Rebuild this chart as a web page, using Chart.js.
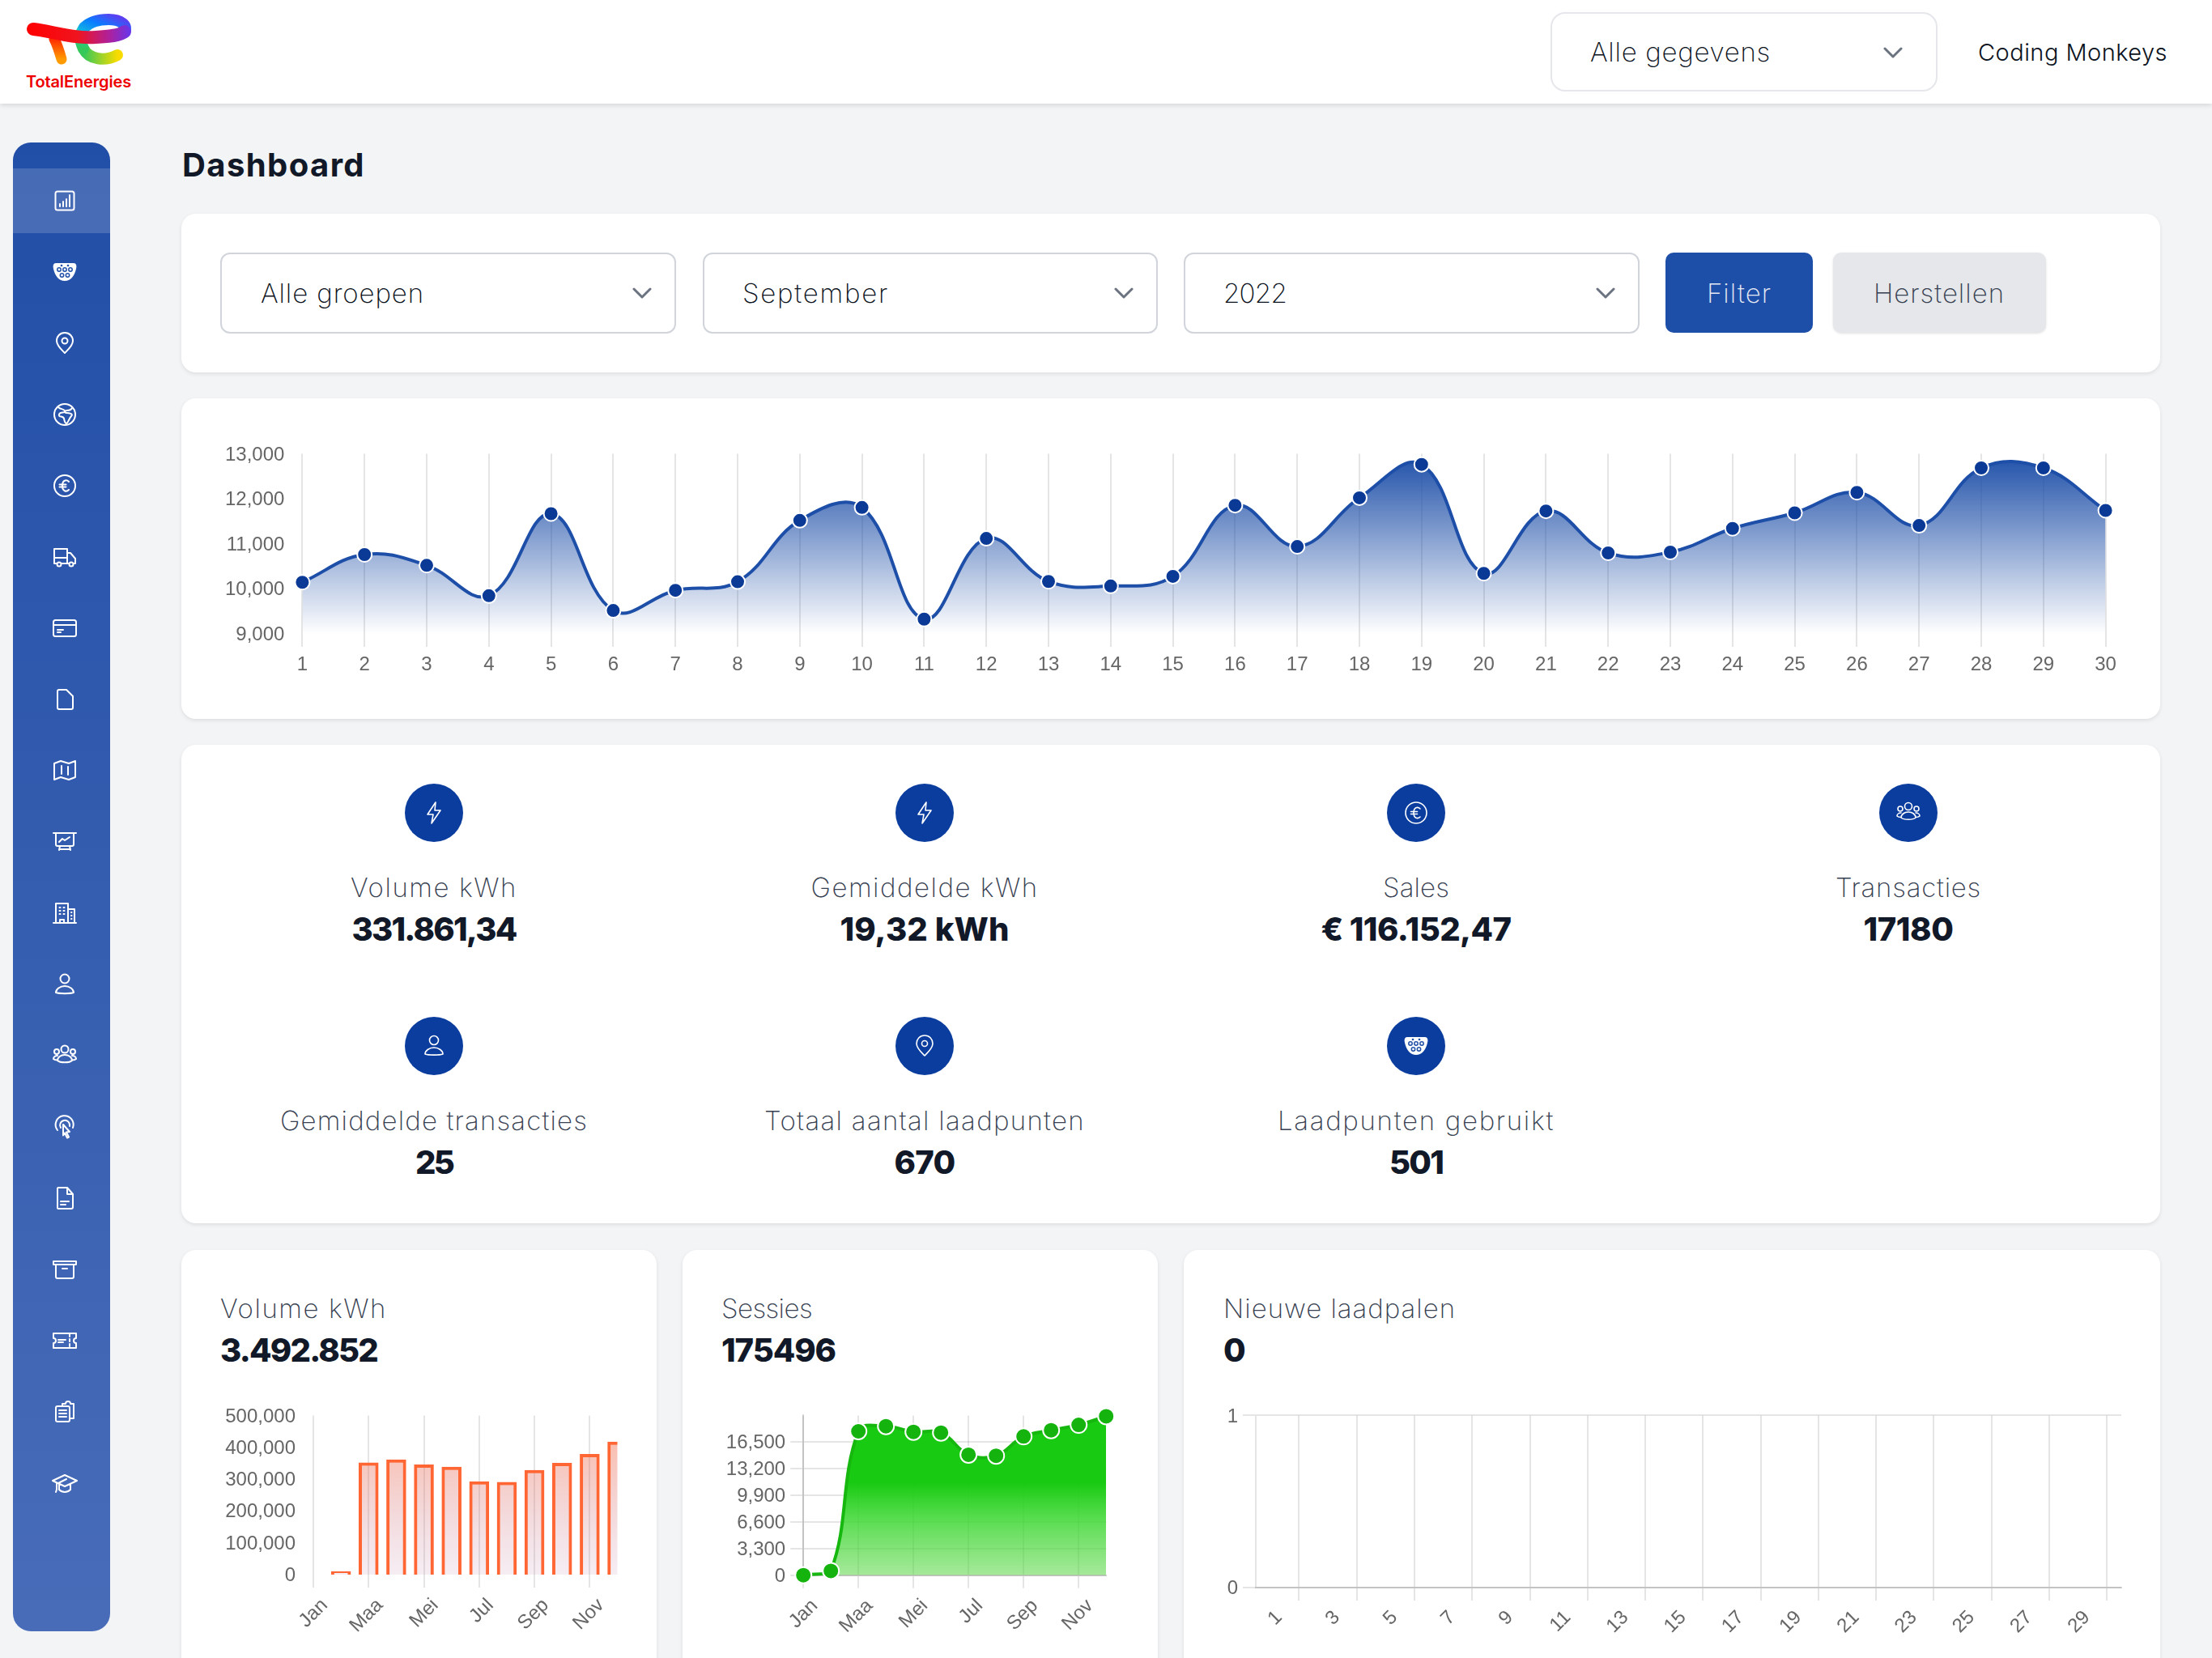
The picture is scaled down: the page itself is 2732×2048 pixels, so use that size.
<!DOCTYPE html>
<html lang="nl">
<head>
<meta charset="utf-8">
<title>Dashboard</title>
<script src="https://cdn.jsdelivr.net/npm/chart.js@4"></script>
<style>
* { box-sizing: border-box; }
html, body { margin: 0; width: 2732px; height: 2048px; overflow: hidden; background: #f3f4f6; }
body { position: relative; font-family: Inter, Lato, sans-serif; font-weight: 250; color: #111827; }
.abs, .card, .select, .btn, canvas, .txt { position: absolute; }
.topbar { position: absolute; left: 0; top: 0; width: 2732px; height: 128px; background: #fff; box-shadow: 0 2px 6px rgba(0,0,0,.12); }
.card { background: #fff; border-radius: 18px; box-shadow: 0 2px 5px rgba(0,0,0,.09); }
.sidebar { position: absolute; left: 16px; top: 176px; width: 120px; height: 1839px; border-radius: 22px; overflow: hidden; background: linear-gradient(180deg, #214ea7 0%, #486cb8 100%); }
.sidebar .active { position: absolute; left: 0; top: 32px; width: 120px; height: 80px; background: rgba(255,255,255,.17); }
.sidebar svg { position: absolute; left: 48px; width: 32px; height: 32px; }
svg.icon { fill: none; stroke: #fff; stroke-width: 2; stroke-linecap: round; stroke-linejoin: round; }
.select { height: 100px; background: #fff; border: 2px solid #d1d5db; border-radius: 12px; }
.txt { white-space: nowrap; line-height: 1; }
.field { font-size: 33px; color: #0b1220; transform: translateY(-50%); }
.chev { position: absolute; width: 24px; height: 14px; fill: none; stroke: #6b7280; stroke-width: 3; stroke-linecap: round; stroke-linejoin: round; }
.btn { top: 312px; height: 99px; border-radius: 10px; }
.kpi-dot { position: absolute; width: 72px; height: 72px; border-radius: 50%; background: #0b3d9f; }
.kpi-dot svg { position: absolute; left: 20px; top: 20px; width: 32px; height: 32px; stroke-width: 1.6; }
.kpi-label, .kpi-value { transform: translate(-50%, -50%); }
.kpi-label { font-size: 33px; color: #374151; }
.kpi-value { font-size: 40px; font-weight: 800; color: #111827; }
.card-title { font-size: 33px; color: #374151; transform: translateY(-50%); }
.card-value { font-size: 40px; font-weight: 800; color: #111827; transform: translateY(-50%); }
</style>
</head>
<body>
<div class="topbar"></div>
<svg class="abs" style="left:24px;top:10px" width="150" height="90" viewBox="24 10 150 90" fill="none" stroke-linecap="round">
  <defs>
    <linearGradient id="gTop" x1="0" y1="1" x2="1" y2="0"><stop offset="0" stop-color="#16c8d8"/><stop offset=".55" stop-color="#0a7cff"/><stop offset="1" stop-color="#5b3ff0"/></linearGradient>
    <linearGradient id="gLeft" x1="0" y1="0" x2="0" y2="1"><stop offset="0" stop-color="#16c8d8"/><stop offset="1" stop-color="#35c85a"/></linearGradient>
    <linearGradient id="gBot" x1="0" y1="0" x2="1" y2="0"><stop offset="0" stop-color="#35c85a"/><stop offset="1" stop-color="#f8dc00"/></linearGradient>
    <linearGradient id="gSwoosh" gradientUnits="userSpaceOnUse" x1="32" y1="40" x2="160" y2="40"><stop offset="0" stop-color="#ff0000"/><stop offset=".5" stop-color="#f0141e"/><stop offset=".8" stop-color="#b0209a"/><stop offset="1" stop-color="#6a35e8"/></linearGradient>
    <linearGradient id="gStem" x1="0" y1="0" x2="0" y2="1"><stop offset="0" stop-color="#ff2a00"/><stop offset="1" stop-color="#ff9a00"/></linearGradient>
  </defs>
  <path d="M103 60C110 74 130 76 145 68" stroke="url(#gBot)" stroke-width="14"/>
  <path d="M104 34C97 43 99 52 103 60" stroke="url(#gLeft)" stroke-width="14"/>
  <path d="M104 34C112 26 122 24 134 24C150 24 158 32 154 38C150 44 140 45 125 46" stroke="url(#gTop)" stroke-width="14"/>
  <path d="M67 48C71 56 74 66 76 73" stroke="url(#gStem)" stroke-width="13"/>
  <path d="M41 36C62 38 90 48 118 46C135 45 148 44 154 39" stroke="url(#gSwoosh)" stroke-width="16"/>
</svg>
<div class="txt" style="left:32px;top:91px;font-size:20px;font-weight:600;color:#ed0000" data-w="130">TotalEnergies</div>
<div class="select" style="left:1915px;top:15px;width:478px;height:98px;border-radius:18px;border-color:#e5e7eb"></div>
<div class="txt field" style="left:1964px;top:64px" data-w="223">Alle gegevens</div>
<svg class="chev" style="left:2326px;top:58px" viewBox="0 0 24 14"><path d="M2 2l10 10L22 2"/></svg>
<div class="txt" style="left:2443px;top:50px;font-size:29px;font-weight:300;color:#0b1220" data-w="234">Coding Monkeys</div>

<div class="sidebar" id="sidebar"><div class="active"></div></div>

<div class="txt" style="left:225px;top:184px;font-size:40px;font-weight:700" data-w="226">Dashboard</div>

<div class="card" style="left:224px;top:264px;width:2444px;height:196px"></div>
<div class="select" style="left:272px;top:312px;width:563px"></div>
<div class="txt field" style="left:322px;top:362px" data-w="202">Alle groepen</div>
<svg class="chev" style="left:781px;top:355px" viewBox="0 0 24 14"><path d="M2 2l10 10L22 2"/></svg>
<div class="select" style="left:868px;top:312px;width:562px"></div>
<div class="txt field" style="left:917px;top:362px" data-w="181">September</div>
<svg class="chev" style="left:1376px;top:355px" viewBox="0 0 24 14"><path d="M2 2l10 10L22 2"/></svg>
<div class="select" style="left:1462px;top:312px;width:563px"></div>
<div class="txt field" style="left:1511px;top:362px" data-w="78">2022</div>
<svg class="chev" style="left:1971px;top:355px" viewBox="0 0 24 14"><path d="M2 2l10 10L22 2"/></svg>
<div class="btn" style="left:2057px;width:182px;background:#1e4fa8"></div>
<div class="txt field" style="left:2108px;top:362px;color:#e5e9f3" data-w="80">Filter</div>
<div class="btn" style="left:2264px;width:263px;background:#e5e7eb;box-shadow:0 1px 3px rgba(0,0,0,.12)"></div>
<div class="txt field" style="left:2314px;top:362px;color:#374151" data-w="162">Herstellen</div>

<div class="card" style="left:224px;top:492px;width:2444px;height:396px"></div>
<canvas id="dailyChart" width="2400" height="340" style="left:260px;top:540px"></canvas>

<div class="card" style="left:224px;top:920px;width:2444px;height:591px"></div>
<div id="kpis"></div>

<div class="card" style="left:224px;top:1544px;width:587px;height:520px"></div>
<div class="txt card-title" style="left:272px;top:1616px" data-w="206">Volume kWh</div>
<div class="txt card-value" style="left:272px;top:1668px" data-w="194">3.492.852</div>
<canvas id="volumeChart" width="570" height="320" style="left:230px;top:1728px"></canvas>

<div class="card" style="left:843px;top:1544px;width:587px;height:520px"></div>
<div class="txt card-title" style="left:891px;top:1616px" data-w="112">Sessies</div>
<div class="txt card-value" style="left:891px;top:1668px" data-w="141">175496</div>
<canvas id="sessionsChart" width="560" height="320" style="left:860px;top:1728px"></canvas>

<div class="card" style="left:1462px;top:1544px;width:1206px;height:520px"></div>
<div class="txt card-title" style="left:1511px;top:1616px" data-w="287">Nieuwe laadpalen</div>
<div class="txt card-value" style="left:1511px;top:1668px">0</div>
<canvas id="chargersChart" width="1180" height="320" style="left:1480px;top:1728px"></canvas>

<script>
const dayLabels = ['1', '2', '3', '4', '5', '6', '7', '8', '9', '10', '11', '12', '13', '14', '15', '16', '17', '18', '19', '20', '21', '22', '23', '24', '25', '26', '27', '28', '29', '30'];
const dailyKwh = [10146, 10761, 10522, 9848, 11669, 9519, 9967, 10158, 11519, 11806, 9328, 11119, 10164, 10063, 10278, 11854, 10940, 12021, 12761, 10343, 11728, 10797, 10815, 11340, 11687, 12140, 11406, 12684, 12684, 11740];
const monthLabels = ['Jan', 'Feb', 'Maa', 'Apr', 'Mei', 'Jun', 'Jul', 'Aug', 'Sep', 'Okt', 'Nov', 'Dec'];
const monthlyVolume = [0, 10100, 352000, 362000, 346000, 339000, 293000, 291000, 329000, 351000, 379000, 418000];
const monthlySessions = [0, 530, 17833, 18467, 17767, 17667, 14933, 14800, 17200, 17967, 18633, 19700];
const newChargers = [0, 0, 0, 0, 0, 0, 0, 0, 0, 0, 0, 0, 0, 0, 0, 0, 0, 0, 0, 0, 0, 0, 0, 0, 0, 0, 0, 0, 0, 0];

const kpis = [
    { icon: 'bolt', label: 'Volume kWh', value: '331.861,34', labelW: 206, valueW: 203 },
    { icon: 'bolt', label: 'Gemiddelde kWh', value: '19,32 kWh', labelW: 281, valueW: 209 },
    { icon: 'euro', label: 'Sales', value: '€ 116.152,47', labelW: 82, valueW: 235 },
    { icon: 'users', label: 'Transacties', value: '17180', labelW: 180, valueW: 111 },
    { icon: 'user', label: 'Gemiddelde transacties', value: '25', labelW: 380, valueW: 46 },
    { icon: 'pin', label: 'Totaal aantal laadpunten', value: '670', labelW: 396, valueW: 75 },
    { icon: 'plug', label: 'Laadpunten gebruikt', value: '501', labelW: 342, valueW: 66 },
];
const kpiColumns = [536, 1142, 1749, 2357];

const icons = {
    chart: '<rect x="4.5" y="4.5" width="23" height="23" rx="2.5"/><path d="M10 23v-3M14 23v-6M18 23v-9M22 23V9"/>',
    plug: '<path fill="#fff" stroke="none" d="M5 5h22c3 0 4 3 3 7-2 9-7 15-14 15S4 21 2 12C1 8 2 5 5 5z"/><g stroke="#2150a8" stroke-width="1.5"><circle cx="12" cy="8" r=".6"/><circle cx="20" cy="8" r=".6"/><circle cx="9" cy="13" r="2.200"/><circle cx="16" cy="13" r="2.200"/><circle cx="23" cy="13" r="2.200"/><circle cx="12.5" cy="20" r="2.200"/><circle cx="19.5" cy="20" r="2.200"/></g>',
    pin: '<path d="M16 3c6 0 10 4.500 10 10 0 6-7 12-10 15-3-3-10-9-10-15C6 7.500 10 3 16 3z"/><circle cx="16" cy="13" r="3.500"/>',
    globe: '<circle cx="16" cy="16" r="13"/><path d="M8 7c3 3 8 2 8 5s-6 0-7 4 5 1 6 5 1 6 3 6 3-6 6-9-3-4-6-4-2-3 1-3 5-1 6-3"/>',
    euro: '<circle cx="16" cy="16" r="13"/><path d="M21 11c-3-3-8-2-8 5s5 8 8 5M9.500 14.500h8M9.500 17.500h8"/>',
    truck: '<path d="M6 24H3V6h16v18h-7M19 11h4l6 7v6h-2M19 24h2M3 17h16"/><circle cx="9" cy="25" r="2.500"/><circle cx="24" cy="25" r="2.500"/>',
    card: '<rect x="2" y="6" width="28" height="20" rx="2.500"/><path d="M2 12h28M7 18h7M7 21h4"/>',
    file: '<path d="M9 4h9l8 8v14a2 2 0 0 1-2 2H9a2 2 0 0 1-2-2V6a2 2 0 0 1 2-2z"/>',
    map: '<path d="M3 7l8-3 10 3 8-3v20l-8 3-10-3-8 3zM12 10v10M20 11v10"/>',
    board: '<path d="M2 5h28M5 5v14a2 2 0 0 0 2 2h18a2 2 0 0 0 2-2V5M9 16l4-4 3 2 6-4M10 21l-1 5M22 21l1 5M10 25h12"/>',
    building: '<path d="M2 28h28M5 28V4h15v24M20 11h8v17M10 28v-4h5v4M9.500 9h1M14.500 9h1M9.500 13h1M14.500 13h1M9.500 17h1M14.500 17h1M24 15h.5M24 19h.5M24 23h.5"/>',
    user: '<circle cx="16" cy="9" r="5.500"/><path d="M5 26c0-4 5-8 11-8s11 4 11 8c-4 1.500-18 1.500-22 0z"/>',
    users: '<circle cx="16" cy="8" r="4.500"/><circle cx="6" cy="11" r="3"/><circle cx="26" cy="11" r="3"/><path d="M7 22c0-4 4-7 9-7s9 3 9 7c-3 3-15 3-18 0zM7 16c-3 0-5 2-5 4 1 1 3 1.500 5 1.500M25 16c3 0 5 2 5 4-1 1-3 1.500-5 1.500"/>',
    touch: '<path d="M7 20a11 11 0 1 1 19-3M11 17a6 6 0 1 1 11-2M14 13l8 9-4 .5 3 6-2 1-3-6-2 3z"/>',
    doc: '<path d="M8 3h11l7 8v16a2 2 0 0 1-2 2H8a1 1 0 0 1-1-1V4a1 1 0 0 1 1-1zM19 3v8h7M11 20h10M11 24h6"/>',
    box: '<path d="M2 6h28v4H2zM5 10v15a2 2 0 0 0 2 2h18a2 2 0 0 0 2-2V10M13 15h6"/>',
    ticket: '<path d="M2 7h28v6a3 3 0 0 0 0 6v6H2v-6a3 3 0 0 0 0-6zM22 8v3M22 14v3M22 20v3M8 15h9M8 18h6"/>',
    clipboard: '<path d="M13 8V6h4a3 3 0 0 1 6 0h4v18h-5"/><rect x="5" y="9" width="17" height="19" rx="2"/><path d="M9 14h9M9 18h9M9 22h9"/>',
    cap: '<path d="M1 13L16 6l15 7-15 7zM9 17v7c4 4 10 4 14 0v-7M6 15v9l-1 3M8 16l10-5"/>',
    bolt: '<path d="M18 3L8 18h7l-2 11 11-16h-7z"/>',
};
const sidebarIcons = ['chart', 'plug', 'pin', 'globe', 'euro', 'truck', 'card', 'file', 'map', 'board', 'building', 'user', 'users', 'touch', 'doc', 'box', 'ticket', 'clipboard', 'cap'];

const mainFillStops = [[0, 'rgba(30,79,168,1)'], [1, 'rgba(30,79,168,0)']];
const volumeFillStops = [[0, 'rgba(255,102,51,.5)'], [1, 'rgba(190,130,170,.14)']];
const sessionsFillStops = [[0, 'rgb(24,202,17)'], [.42, 'rgb(24,202,17)'], [.65, 'rgba(60,215,50,.85)'], [1, 'rgba(90,215,70,.55)']];

function iconSvg(name) {
    return `<svg class="icon" viewBox="0 0 32 32">${icons[name]}</svg>`;
}

document.getElementById('sidebar').insertAdjacentHTML('beforeend', sidebarIcons.map((name, i) =>
    iconSvg(name).replace('<svg ', `<svg style="top:${56 + i * 88}px" `)
).join(''));

document.getElementById('kpis').innerHTML = kpis.map((k, i) => {
    const x = kpiColumns[i % 4];
    const top = i < 4 ? 968 : 1256;
    return `
        <div class="kpi-dot" style="left:${x - 36}px;top:${top}px">${iconSvg(k.icon)}</div>
        <div class="txt kpi-label" style="left:${x}px;top:${top + 128}px" data-w="${k.labelW}">${k.label}</div>
        <div class="txt kpi-value" style="left:${x}px;top:${top + 180}px" data-w="${k.valueW}">${k.value}</div>`;
}).join('');

// the reference face is wider than Inter, so stretch each text to its measured width
document.querySelectorAll('[data-w]').forEach(el => {
    const gap = el.dataset.w - el.getBoundingClientRect().width;
    el.style.letterSpacing = (gap / el.textContent.length) + 'px';
});

Chart.defaults.font.family = '"Liberation Sans", Arial, sans-serif';
Chart.defaults.font.size = 24;
Chart.defaults.color = '#666';
Chart.defaults.animation = false;
Chart.defaults.devicePixelRatio = 1;
Chart.defaults.responsive = false;
Chart.defaults.locale = 'en-US';
Chart.defaults.plugins.legend.display = false;
Chart.defaults.plugins.tooltip.enabled = false;

function verticalFill(chart, stops) {
    const { ctx, chartArea } = chart;
    if (!chartArea) return 'transparent';
    const gradient = ctx.createLinearGradient(0, chartArea.top, 0, chartArea.bottom);
    stops.forEach(([at, color]) => gradient.addColorStop(at, color));
    return gradient;
}

const gridLines = { color: 'rgba(0,0,0,.1)', lineWidth: 2, tickLength: 16 };

function xAxis(height, extra) {
    return {
        ...extra,
        grid: { ...gridLines, ...extra.grid },
        ticks: { padding: 8, ...extra.ticks },
        afterFit: scale => { scale.height = height; },
    };
}

function yAxis(width, extra) {
    return {
        afterFit: scale => { scale.width = width; },
        ...extra,
        ticks: { padding: 6, labelOffset: 1.5, ...extra.ticks },
    };
}

new Chart(document.getElementById('dailyChart'), {
    type: 'line',
    data: {
        labels: dayLabels,
        datasets: [{
            data: dailyKwh,
            borderColor: '#1e4fa8',
            borderWidth: 4,
            tension: 0.4,
            fill: 'origin',
            clip: false,
            backgroundColor: c => verticalFill(c.chart, mainFillStops),
            pointRadius: 9,
            pointBorderWidth: 2,
            pointBorderColor: '#fff',
            pointBackgroundColor: '#0b3a96',
        }],
    },
    options: {
        layout: { padding: { top: 20, right: 59.400 } },
        scales: {
            x: xAxis(97, { border: { display: false }, ticks: { maxRotation: 0, autoSkip: false } }),
            y: yAxis(113.400, {
                min: 9000,
                max: 13000,
                grid: { display: false, tickLength: 16 },
                border: { display: false },
                ticks: { stepSize: 1000 },
            }),
        },
    },
});

new Chart(document.getElementById('volumeChart'), {
    type: 'bar',
    data: {
        labels: monthLabels,
        datasets: [{
            data: monthlyVolume,
            borderColor: '#ff6633',
            borderWidth: 4,
            backgroundColor: c => verticalFill(c.chart, volumeFillStops),
        }],
    },
    options: {
        layout: { padding: { top: 20, right: 37.500 } },
        scales: {
            x: xAxis(103, {
                offset: false,
                grid: { offset: false },
                border: { display: false },
                ticks: { minRotation: 45, maxRotation: 45, maxTicksLimit: 6, labelOffset: 14 },
            }),
            y: yAxis(157, {
                min: 0,
                max: 500000,
                grid: { display: false, tickLength: 16 },
                border: { display: false },
                ticks: { stepSize: 100000 },
            }),
        },
    },
});

new Chart(document.getElementById('sessionsChart'), {
    type: 'line',
    data: {
        labels: monthLabels,
        datasets: [{
            data: monthlySessions,
            borderColor: '#16b80f',
            borderWidth: 4,
            tension: 0.4,
            fill: 'origin',
            clip: false,
            backgroundColor: c => verticalFill(c.chart, sessionsFillStops),
            pointRadius: 10,
            pointBorderWidth: 2,
            pointBorderColor: '#fff',
            pointBackgroundColor: '#14b30e',
        }],
    },
    options: {
        layout: { padding: { top: 20, right: 53.800 } },
        scales: {
            x: xAxis(102.300, {
                border: { color: 'rgba(0,0,0,.15)', width: 2 },
                ticks: { minRotation: 45, maxRotation: 45, maxTicksLimit: 6, labelOffset: 14 },
            }),
            y: yAxis(132.200, {
                min: 0,
                max: 19800,
                grid: gridLines,
                border: { color: 'rgba(0,0,0,.15)', width: 2 },
                ticks: { stepSize: 3300 },
                // the top step has neither label nor grid line in this chart
                afterBuildTicks: scale => { scale.ticks = scale.ticks.filter(t => t.value < scale.max); },
            }),
        },
    },
});

new Chart(document.getElementById('chargersChart'), {
    type: 'bar',
    data: {
        labels: dayLabels,
        datasets: [{ data: newChargers, backgroundColor: '#1e4fa8' }],
    },
    options: {
        layout: { padding: { top: 20, right: 40 } },
        scales: {
            x: xAxis(87, {
                offset: true,
                border: { color: 'rgba(0,0,0,.15)', width: 2 },
                ticks: { minRotation: 45, maxRotation: 45, maxTicksLimit: 16, labelOffset: 11, padding: 7 },
            }),
            y: yAxis(71, {
                min: 0,
                max: 1,
                grid: gridLines,
                border: { color: 'rgba(0,0,0,.1)', width: 2 },
                ticks: { stepSize: 1 },
            }),
        },
    },
});
</script>
</body>
</html>
